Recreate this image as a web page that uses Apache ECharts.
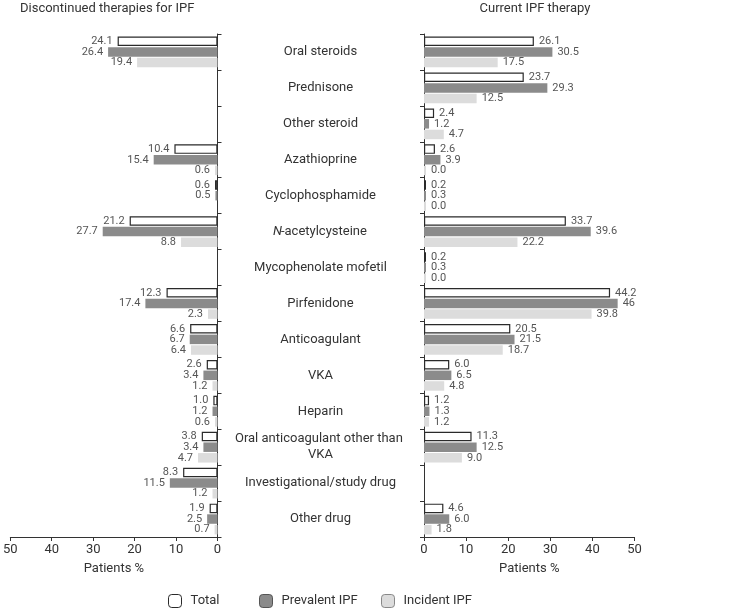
<!DOCTYPE html>
<html><head><meta charset="utf-8">
<script src="https://cdn.jsdelivr.net/npm/echarts@6/dist/echarts.min.js"></script>
<style>html,body{margin:0;padding:0;background:#fff}#c{width:734px;height:608px}</style>
</head><body><div id="c"></div>
<script>
const categories = ['Oral steroids','Prednisone','Other steroid','Azathioprine','Cyclophosphamide','N-acetylcysteine','Mycophenolate mofetil','Pirfenidone','Anticoagulant','VKA','Heparin','Oral anticoagulant other than VKA','Investigational/study drug','Other drug'];
const seriesNames = ['Total','Prevalent IPF','Incident IPF'];
const xTicks = [0,10,20,30,40,50];
// Discontinued therapies for IPF
const discTotal      = ['24.1',null,null,'10.4','0.6','21.2',null,'12.3','6.6','2.6','1.0','3.8','8.3','1.9'];
const discPrevalent  = ['26.4',null,null,'15.4','0.5','27.7',null,'17.4','6.7','3.4','1.2','3.4','11.5','2.5'];
const discIncident   = ['19.4',null,null,'0.6',null,'8.8',null,'2.3','6.4','1.2','0.6','4.7','1.2','0.7'];
// Current IPF therapy
const curTotal       = ['26.1','23.7','2.4','2.6','0.2','33.7','0.2','44.2','20.5','6.0','1.2','11.3',null,'4.6'];
const curPrevalent   = ['30.5','29.3','1.2','3.9','0.3','39.6','0.3','46','21.5','6.5','1.3','12.5',null,'6.0'];
const curIncident    = ['17.5','12.5','4.7','0.0','0.0','22.2','0.0','39.8','18.7','4.8','1.2','9.0',null,'1.8'];

const FONT = 'Roboto';
const styles = [
  {color:'#ffffff', borderColor:'#2a2a2a', borderWidth:1.2},
  {color:'#8b8b8b', borderColor:'#8b8b8b', borderWidth:0},
  {color:'#dcdcdc', borderColor:'#dcdcdc', borderWidth:0}
];
const legendStyles = [
  {color:'#ffffff', borderColor:'#2a2a2a', borderWidth:1},
  {color:'#8b8b8b', borderColor:'#555', borderWidth:1},
  {color:'#dcdcdc', borderColor:'#888', borderWidth:1}
];
function mk(name, data, idx, gi){
  return {
    type:'bar', name:name, data:data, xAxisIndex:gi, yAxisIndex:gi,
    barWidth:9.5, barGap:'12%', barMinHeight:2,
    itemStyle: styles[idx],
    label:{show:true, position: gi===0?'left':'right', distance:5, color:'#555', fontSize:11, fontFamily:FONT,
      formatter: p => (p.data==null? '' : String(p.data))},
    animation:false
  };
}
const axisLine = {show:true, lineStyle:{color:'#333', width:1}};
const legendText = {fontFamily:FONT, fontSize:13, color:'#333', padding:[0,0,0,4]};
const option = {
  backgroundColor:'#fff',
  animation:false,
  title:[
    {text:'Discontinued therapies for IPF', left:15, top:-3, textStyle:{fontFamily:FONT, fontSize:13, fontWeight:'normal', color:'#333'}},
    {text:'Current IPF therapy', left:530, top:-3, textAlign:'center', textStyle:{fontFamily:FONT, fontSize:13, fontWeight:'normal', color:'#333'}}
  ],
  legend:[
    {data:[{name:'Total', itemStyle:legendStyles[0]}], left:168, top:594, padding:0, itemWidth:13, itemHeight:13, textStyle:legendText},
    {data:[{name:'Prevalent IPF', itemStyle:legendStyles[1]}], left:259, top:594, padding:0, itemWidth:13, itemHeight:13, textStyle:legendText},
    {data:[{name:'Incident IPF', itemStyle:legendStyles[2]}], left:381, top:594, padding:0, itemWidth:13, itemHeight:13, textStyle:legendText}
  ],
  grid:[
    {left:7, width:210.5, top:34, bottom:71},
    {left:424, width:210.5, top:34, bottom:71}
  ],
  xAxis:[
    {gridIndex:0, type:'value', inverse:true, min:xTicks[0], max:xTicks[xTicks.length-1], interval:10,
     axisLine:axisLine, axisTick:{show:true, length:4, lineStyle:{color:'#333'}}, splitLine:{show:false},
     axisLabel:{fontFamily:FONT, fontSize:13, color:'#333', margin:6},
     name:'Patients %', nameLocation:'middle', nameGap:25, nameTextStyle:{fontFamily:FONT, fontSize:13, color:'#333'}},
    {gridIndex:1, type:'value', min:xTicks[0], max:xTicks[xTicks.length-1], interval:10,
     axisLine:axisLine, axisTick:{show:true, length:4, lineStyle:{color:'#333'}}, splitLine:{show:false},
     axisLabel:{fontFamily:FONT, fontSize:13, color:'#333', margin:6},
     name:'Patients %', nameLocation:'middle', nameGap:25, nameTextStyle:{fontFamily:FONT, fontSize:13, color:'#333'}}
  ],
  yAxis:[
    {gridIndex:0, type:'category', data:categories, inverse:true, position:'right',
     axisLine:axisLine, axisTick:{show:true, length:4, lineStyle:{color:'#333'}},
     axisLabel:{show:true, margin:103, align:'center', fontFamily:FONT, fontSize:13, color:'#333', lineHeight:16,
       width:190, overflow:'break',
       formatter: v => v.startsWith('N-') ? '{i|N}-' + v.slice(2) : v,
       rich:{i:{fontStyle:'italic', fontFamily:FONT, fontSize:13, color:'#333'}}}},
    {gridIndex:1, type:'category', data:categories, inverse:true, position:'left',
     axisLine:axisLine, axisTick:{show:true, length:4, lineStyle:{color:'#333'}},
     axisLabel:{show:false}}
  ],
  series:[
    mk(seriesNames[0], discTotal, 0, 0),
    mk(seriesNames[1], discPrevalent, 1, 0),
    mk(seriesNames[2], discIncident, 2, 0),
    mk(seriesNames[0], curTotal, 0, 1),
    mk(seriesNames[1], curPrevalent, 1, 1),
    mk(seriesNames[2], curIncident, 2, 1)
  ]
};
const chart = echarts.init(document.getElementById('c'), null, {renderer:'canvas'});
chart.setOption(option);
</script></body></html>
